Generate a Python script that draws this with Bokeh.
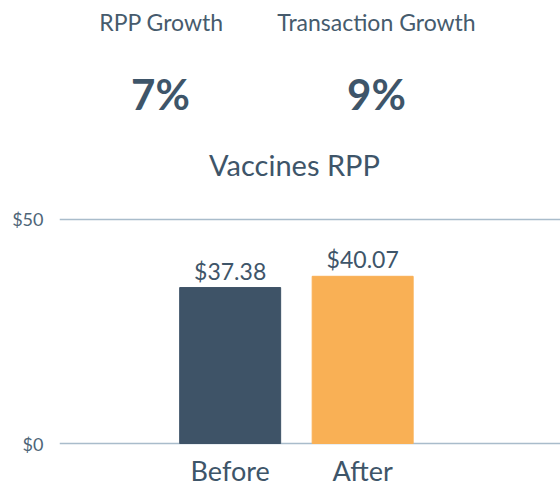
from bokeh.plotting import figure
from bokeh.models import Range1d, FixedTicker, Label, ColumnDataSource
from bokeh.embed import file_html
from bokeh.resources import INLINE

categories = ["Before", "After"]
values = [37.38, 40.07]
value_labels = ["$37.38", "$40.07"]
bar_colors = ["#3e5367", "#f9b055"]
tick_values = [0, 53.8]
tick_labels = ["$0", "$50"]
kpi_titles = ["RPP Growth", "Transaction Growth"]
kpi_values = ["7%", "9%"]
chart_title = "Vaccines RPP"

FONT = "Lato"
TXT = "#3e5569"

W, H = 560, 489
left, right, top, bottom = 59, 0, 0, 42
fw = W - left - right
fh = H - top - bottom
ppu = 225.5 / tick_values[-1]
x0, x1 = -1.288, 2.493
ys = -2 / ppu
ye = ys + fh / ppu

p = figure(width=W, height=H, output_backend="svg", toolbar_location=None,
           x_range=Range1d(x0, x1), y_range=Range1d(ys, ye),
           min_border_left=left, min_border_right=right,
           min_border_top=top, min_border_bottom=bottom)
p.outline_line_color = None
p.background_fill_color = "white"
p.border_fill_color = "white"

xs = list(range(len(categories)))
pad = 17 / ppu
src = ColumnDataSource(dict(x=xs, top=values, ly=[v + pad for v in values],
                            color=bar_colors, lab=value_labels))
p.vbar(x="x", top="top", bottom=0, width=0.762, color="color", source=src)
p.text(x="x", y="ly", text="lab", source=src, text_align="center",
       text_baseline="middle", text_font_size="23px",
       text_color=TXT, text_font={"value": FONT})

for ax in (p.xaxis, p.yaxis):
    ax.axis_line_color = None
    ax.major_tick_line_color = None
    ax.minor_tick_line_color = None
    ax.major_tick_out = 0
    ax.major_tick_in = 0
    ax.minor_tick_out = 0
    ax.minor_tick_in = 0
    ax.major_label_text_font = FONT

p.yaxis.ticker = FixedTicker(ticks=tick_values)
p.yaxis.major_label_overrides = {v: l for v, l in zip(tick_values, tick_labels)}
p.yaxis.major_label_text_font_size = "18px"
p.yaxis.major_label_text_color = "#4e6578"
p.yaxis.major_label_standoff = 16

p.xaxis.ticker = FixedTicker(ticks=xs)
p.xaxis.major_label_overrides = {x: c for x, c in zip(xs, categories)}
p.xaxis.major_label_text_font_size = "27px"
p.xaxis.major_label_text_color = TXT
p.xaxis.major_label_standoff = 8

p.xgrid.grid_line_color = None
p.ygrid.ticker = FixedTicker(ticks=tick_values)
p.ygrid.grid_line_color = "#a9bccb"
p.ygrid.grid_line_width = 1.5

def dx(px):
    return x0 + (px - left) / fw * (x1 - x0)
def dy(py):
    return ys + ((H - bottom) - py) / ppu

for t, cx in zip(kpi_titles, [161, 376]):
    p.add_layout(Label(x=dx(cx), y=dy(21.5), text=t, text_align="center",
                       text_baseline="middle", text_font=FONT,
                       text_font_size="23px", text_color="#465b6d"))
for t, cx in zip(kpi_values, [160, 376]):
    p.add_layout(Label(x=dx(cx), y=dy(93.5), text=t, text_align="center",
                       text_baseline="middle", text_font=FONT,
                       text_font_size="42px", text_font_style="bold",
                       text_color=TXT))
p.add_layout(Label(x=dx(294), y=dy(165), text=chart_title, text_align="center",
                   text_baseline="middle", text_font=FONT,
                   text_font_size="29px", text_color=TXT))

open("out.html", "w").write(file_html(p, INLINE))
